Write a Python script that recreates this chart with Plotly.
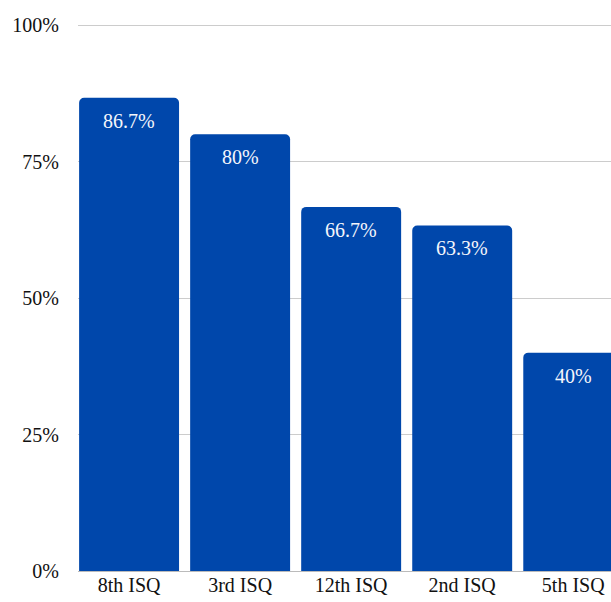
import plotly.graph_objects as go

categories = ["8th ISQ", "3rd ISQ", "12th ISQ", "2nd ISQ", "5th ISQ"]
values = [86.7, 80, 66.7, 63.3, 40]
y_ticks = [0, 25, 50, 75, 100]
y_tick_labels = ["0%", "25%", "50%", "75%", "100%"]

BAR_COLOR = "#0047AB"
FONT = "Liberation Serif"
TEXT_COLOR = "#111111"

fig = go.Figure()
fig.add_trace(go.Bar(
    x=categories,
    y=values,
    marker=dict(color=BAR_COLOR, line=dict(width=0)),
    width=0.9,
    hoverinfo="skip",
))

# value labels a little below each bar top
for cat, val in zip(categories, values):
    fig.add_annotation(
        x=cat, y=val, text=f"{val:g}%",
        showarrow=False, yanchor="top", yshift=-10,
        font=dict(family=FONT, size=20, color="#f4f6fb"),
    )

fig.update_layout(
    width=611, height=602,
    margin=dict(l=78, r=0, t=24, b=31),
    paper_bgcolor="white", plot_bgcolor="white",
    barcornerradius=5,
    showlegend=False,
    font=dict(family=FONT, size=20, color=TEXT_COLOR),
    xaxis=dict(
        range=[-0.46, 4.34],
        showgrid=False, zeroline=False, showline=False,
        ticks="", tickfont=dict(family=FONT, size=20, color=TEXT_COLOR),
    ),
    yaxis=dict(
        range=[0, 100.2],
        tickvals=y_ticks, ticktext=y_tick_labels,
        showgrid=True, gridcolor="#cccccc", gridwidth=1,
        zeroline=True, zerolinecolor="#bbbbbb", zerolinewidth=1,
        showline=False,
        ticks="outside", ticklen=14, tickcolor="rgba(0,0,0,0)",
        tickfont=dict(family=FONT, size=20, color=TEXT_COLOR),
    ),
)

fig.write_html("out.html")
